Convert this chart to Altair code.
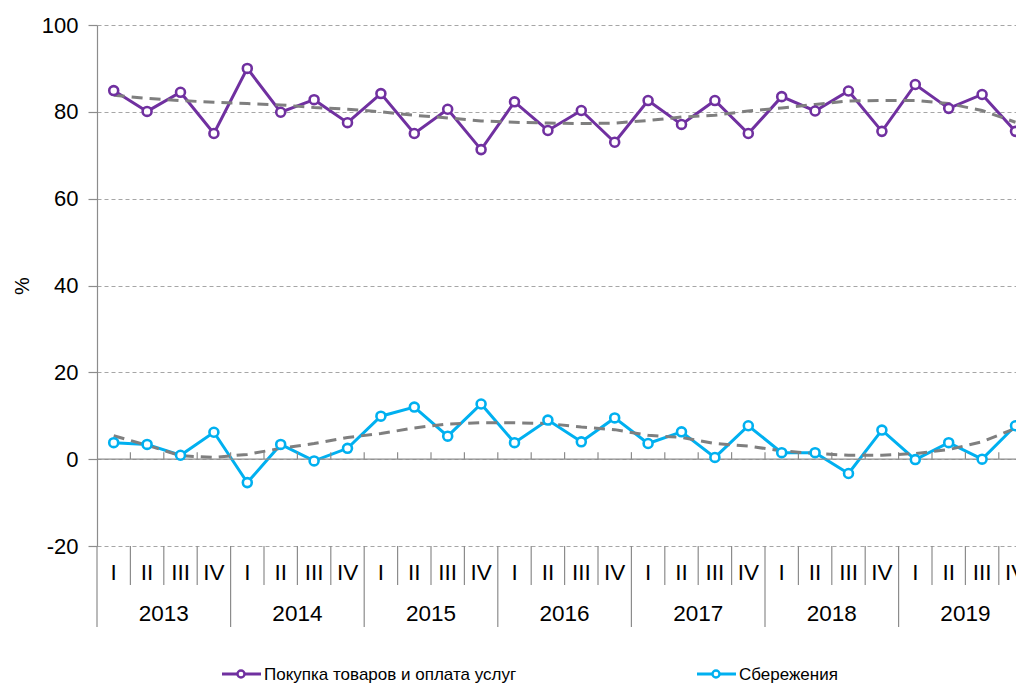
import altair as alt
import pandas as pd

years = ["2013", "2014", "2015", "2016", "2017", "2018", "2019"]
quarters = ["I", "II", "III", "IV"]

purchases = [84.9, 80.1, 84.5, 75.0,
             90.0, 79.9, 82.8, 77.5,
             84.2, 75.0, 80.6, 71.3,
             82.3, 75.7, 80.3, 73.0,
             82.6, 77.1, 82.6, 75.0,
             83.5, 80.2, 84.8, 75.5,
             86.3, 80.8, 84.0, 75.5]
purchases_trend = [83.8, 83.1, 82.6, 82.2,
                   81.9, 81.6, 81.0, 80.6,
                   80.0, 79.2, 78.6, 77.9,
                   77.6, 77.4, 77.3, 77.4,
                   78.0, 78.8, 79.2, 80.2,
                   80.9, 81.7, 82.5, 82.6,
                   82.6, 81.9, 80.3, 77.6]
savings = [3.8, 3.4, 0.9, 6.2,
           -5.4, 3.4, -0.4, 2.5,
           9.9, 12.0, 5.3, 12.7,
           3.8, 9.0, 4.0, 9.5,
           3.6, 6.3, 0.4, 7.7,
           1.5, 1.5, -3.3, 6.7,
           -0.1, 3.8, 0.0, 7.7]
savings_trend = [5.4, 3.2, 0.8, 0.4,
                 1.1, 2.5, 3.6, 5.0,
                 5.9, 7.2, 8.1, 8.4,
                 8.4, 8.2, 7.4, 6.8,
                 5.5, 5.0, 3.6, 3.0,
                 1.9, 1.3, 0.9, 0.9,
                 1.3, 2.2, 4.0, 7.1]
series_names = ["Покупка товаров и оплата услуг", "Сбережения"]
series_colors = ["#7030A0", "#00B0F0"]
y_label = "%"
y_ticks = [-20, 0, 20, 40, 60, 80, 100]

W = 919
H = 521
STEP = 33.4
FONT = "Liberation Sans"
GRAY = "#8c8c8c"
YMIN, YMAX = -20, 100
UPX = (YMAX - YMIN) / H          # data units per pixel (y)


def py(px):
    """y data value located px pixels below the plot top"""
    return YMAX - px * UPX


def px_x(px):
    """x data value located px pixels right of the plot's left edge"""
    return -0.5 + px / STEP


n = len(purchases)
rows = []
for i in range(n):
    rows.append({"i": i, "series": series_names[0], "v": purchases[i], "t": purchases_trend[i]})
    rows.append({"i": i, "series": series_names[1], "v": savings[i], "t": savings_trend[i]})
df = pd.DataFrame(rows)

xscale = alt.Scale(domain=[-0.5, px_x(W)], nice=False, zero=False)
yscale = alt.Scale(domain=[YMIN, YMAX], nice=False, zero=False)
cscale = alt.Scale(domain=series_names, range=series_colors)

X = alt.X("i:Q", scale=xscale, axis=None)
Y = alt.Y("v:Q", scale=yscale,
          axis=alt.Axis(values=y_ticks, title=y_label,
                        labelExpr="datum.value + ''",
                        titleFont=FONT, titleFontSize=20, titleFontWeight="normal",
                        titleColor="black", titlePadding=9,
                        labelFont=FONT, labelFontSize=22, labelColor="black",
                        labelPadding=10, tickSize=9, tickColor=GRAY, tickWidth=1.2,
                        domainColor=GRAY, domainWidth=1.2,
                        grid=True, gridColor="#a6a6a6", gridDash=[4, 3], gridWidth=1))

base = alt.Chart(df)

trend = base.mark_line(color="#7f7f7f", strokeWidth=3, strokeDash=[11, 7]).encode(
    x=X, y=alt.Y("t:Q", scale=yscale), detail="series:N")
lines = base.mark_line(strokeWidth=3).encode(
    x=X, y=Y, color=alt.Color("series:N", scale=cscale, legend=None))
points = base.mark_point(filled=True, fill="white", size=80, strokeWidth=2.6, opacity=1).encode(
    x=X, y=alt.Y("v:Q", scale=yscale),
    stroke=alt.Stroke("series:N", scale=cscale, legend=None))

zero_df = pd.DataFrame({"z": [0.0], "x0": [-0.5], "x1": [px_x(W)]})
zero_line = alt.Chart(zero_df).mark_rule(color=GRAY, strokeWidth=1.3).encode(
    y=alt.Y("z:Q", scale=yscale),
    x=alt.X("x0:Q", scale=xscale, axis=None), x2="x1:Q")

tick_df = pd.DataFrame({"b": [k - 0.5 for k in range(1, n + 1)],
                        "y0": [0.0] * n, "y1": [7 * UPX] * n})
zero_ticks = alt.Chart(tick_df).mark_rule(color=GRAY, strokeWidth=1.2).encode(
    x=alt.X("b:Q", scale=xscale, axis=None), y=alt.Y("y0:Q", scale=yscale), y2="y1:Q")

sep_rows = []
for k in range(0, n + 1):
    sep_rows.append({"b": k - 0.5, "y0": YMIN, "y1": py(H + (81 if k % 4 == 0 else 39))})
sep_df = pd.DataFrame(sep_rows)
seps = alt.Chart(sep_df).mark_rule(color=GRAY, strokeWidth=1.2).encode(
    x=alt.X("b:Q", scale=xscale, axis=None), y=alt.Y("y0:Q", scale=yscale), y2="y1:Q")

qlab_df = pd.DataFrame({"i": list(range(n)), "q": [quarters[i % 4] for i in range(n)],
                        "yy": [py(H + 27)] * n})
q_labels = alt.Chart(qlab_df).mark_text(font=FONT, fontSize=22.5, color="black",
                                        baseline="middle").encode(
    x=alt.X("i:Q", scale=xscale, axis=None), y=alt.Y("yy:Q", scale=yscale), text="q:N")

ylab_df = pd.DataFrame({"i": [4 * j + 1.5 for j in range(len(years))], "year": years,
                        "yy": [py(H + 68)] * len(years)})
y_labels = alt.Chart(ylab_df).mark_text(font=FONT, fontSize=22.5, color="black",
                                        baseline="middle").encode(
    x=alt.X("i:Q", scale=xscale, axis=None), y=alt.Y("yy:Q", scale=yscale), text="year:N")

# legend drawn below the axis
LY = 649
leg_x0 = [125, 600]
leg_df = pd.DataFrame({
    "series": series_names,
    "x0": [px_x(v) for v in leg_x0],
    "x1": [px_x(v + 39) for v in leg_x0],
    "xc": [px_x(v + 19) for v in leg_x0],
    "xt": [px_x(v + 42) for v in leg_x0],
    "ly": [py(LY)] * 2,
    "lyt": [py(LY + 1)] * 2,
})
lc = alt.Chart(leg_df)
leg_line = lc.mark_rule(strokeWidth=3).encode(
    x=alt.X("x0:Q", scale=xscale, axis=None), x2="x1:Q", y=alt.Y("ly:Q", scale=yscale),
    color=alt.Color("series:N", scale=cscale, legend=None))
leg_pt = lc.mark_point(filled=True, fill="white", size=50, strokeWidth=2.4, opacity=1).encode(
    x=alt.X("xc:Q", scale=xscale, axis=None), y=alt.Y("ly:Q", scale=yscale),
    stroke=alt.Stroke("series:N", scale=cscale, legend=None))
leg_txt = lc.mark_text(font=FONT, fontSize=17, color="black", align="left",
                       baseline="middle").encode(
    x=alt.X("xt:Q", scale=xscale, axis=None), y=alt.Y("lyt:Q", scale=yscale), text="series:N")

chart = alt.layer(lines, zero_line, zero_ticks, seps, q_labels, y_labels,
                  trend, points, leg_line, leg_pt, leg_txt).properties(
    width=W, height=H,
    autosize=alt.AutoSizeParams(type="none"),
    padding={"left": 89, "top": 17, "right": 0, "bottom": 137},
).configure_view(stroke=None)

chart.save("out.html", embed_options={"renderer": "svg", "actions": False})
